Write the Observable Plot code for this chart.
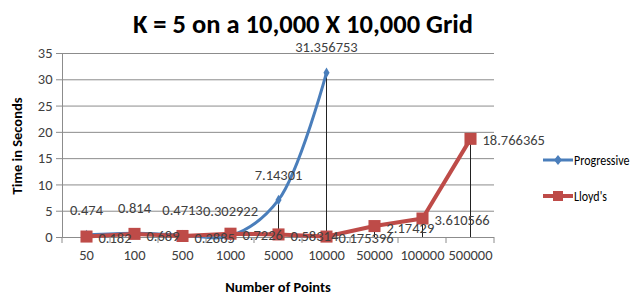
<!DOCTYPE html>
<html><head><meta charset="utf-8">
<script src="https://cdn.jsdelivr.net/npm/d3@7"></script>
<script src="https://cdn.jsdelivr.net/npm/@observablehq/plot@0.6"></script>
<style>
body{margin:0;background:#fff;}
#wrap{position:relative;width:639px;height:296px;font-family:Carlito,Lato,sans-serif;overflow:hidden;}
#wrap > svg{position:absolute;left:0;top:0;}
.abs{position:absolute;white-space:nowrap;}
#title{left:0;width:606px;top:7px;text-align:center;font-weight:bold;font-size:26.5px;color:#000;line-height:34px;}
#ylab{left:17px;top:146px;transform:translate(-50%,-50%) rotate(-90deg);font-weight:bold;font-size:14.5px;color:#000;}
#xlab{left:278px;top:287px;transform:translate(-50%,-50%);font-weight:bold;font-size:14.5px;color:#000;}
.leg{left:543px;display:flex;align-items:center;font-size:15px;color:#000;transform:translateY(-50%);}
.leg svg{display:block;margin-right:1px;}
.leg span{display:inline-block;transform:scaleX(0.8);transform-origin:left center;}
</style></head><body>
<div id="wrap">
<div id="title" class="abs">K = 5 on a 10,000 X 10,000 Grid</div>
<div id="ylab" class="abs">Time in Seconds</div>
<div id="xlab" class="abs">Number of Points</div>
</div>
<script>
const categories = ["50","100","500","1000","5000","10000","50000","100000","500000"];
const progressive = [0.474,0.814,0.4713,0.302922,7.14301,31.356753];
const progressiveLabels = ["0.474","0.814","0.4713","0.302922","7.14301","31.356753"];
const lloyds = [0.182,0.689,0.2885,0.7226,0.58314,0.175396,2.17429,3.610566,18.766365];
const lloydsLabels = ["0.182","0.689","0.2885","0.7226","0.58314","0.175396","2.17429","3.610566","18.766365"];
const yTicks = [0,5,10,15,20,25,30,35];
const seriesNames = ["Progressive","Lloyd's"];
const seriesColors = ["#4a7ebb","#be4b48"];

const prog = progressive.map((v,i)=>({cat:categories[i], v, label:progressiveLabels[i]}));
const lloyd = lloyds.map((v,i)=>({cat:categories[i], v, label:lloydsLabels[i]}));
const drops = categories.map((c,i)=>({cat:c, v: Math.max(lloyds[i] ?? 0, progressive[i] ?? 0)}));

const gray = "#8c8c8c";
const txt = "#404040";
const fs = 14.5;
const chart = Plot.plot({
  width: 639, height: 296,
  marginLeft: 62, marginRight: 145, marginTop: 53, marginBottom: 59,
  style: {fontFamily: "Carlito, Lato, sans-serif", background: "transparent"},
  x: {type: "point", domain: categories, padding: 0.5},
  y: {domain: [0,35]},
  marks: [
    Plot.gridY(yTicks, {stroke: gray, strokeOpacity: 1}),
    Plot.frame({anchor: "left", stroke: gray}),
    Plot.ruleY([0], {stroke: gray}),
    Plot.axisY(yTicks, {tickSize: 6, tickPadding: 4, fontSize: fs, stroke: gray, fill: txt, label: null}),
    Plot.axisX({tickSize: 0, tickPadding: 12, fontSize: fs, fill: txt, label: null}),
    Plot.ruleX(drops, {x: "cat", y1: 0, y2: "v", stroke: "#222", strokeWidth: 1}),
    Plot.line(prog, {x: "cat", y: "v", stroke: seriesColors[0], strokeWidth: 3, curve: "catmull-rom"}),
    Plot.dot(prog, {x: "cat", y: "v", symbol: "diamond", r: 3.2, fill: seriesColors[0], stroke: "none"}),
    Plot.line(lloyd, {x: "cat", y: "v", stroke: seriesColors[1], strokeWidth: 4}),
    Plot.dot(lloyd, {x: "cat", y: "v", symbol: "square", r: 6.8, fill: seriesColors[1], stroke: "none"}),
    Plot.text(prog, {x: "cat", y: "v", text: "label", dy: -25, fill: txt, fontSize: fs}),
    Plot.text(lloyd, {x: "cat", y: "v", text: "label", dx: 12, dy: 2, textAnchor: "start", fill: txt, fontSize: fs})
  ]
});
const wrap = document.getElementById("wrap");
wrap.insertBefore(chart, wrap.firstChild);

// category-boundary tick marks under the x axis (Excel style)
const xs = chart.scale("x");
const cx = categories.map(c => xs.apply(c));
const step = cx[1] - cx[0];
const ys = chart.scale("y");
const y0 = ys.apply(0);
const bounds = cx.map(v => v - step/2).concat([cx[cx.length-1] + step/2]);
d3.select(chart).append("g").selectAll("line").data(bounds).join("line")
  .attr("x1", d => d).attr("x2", d => d).attr("y1", y0).attr("y2", y0 + 6)
  .attr("stroke", gray);

// legend
const legTops = [160, 196];
seriesNames.forEach((name, i) => {
  const d = document.createElement("div");
  d.className = "abs leg";
  d.style.top = legTops[i] + "px";
  const sym = i === 0
    ? `<path d="M15,2 L19,7 L15,12 L11,7 Z" fill="${seriesColors[0]}"/>`
    : `<rect x="10" y="2" width="10" height="10" fill="${seriesColors[1]}"/>`;
  d.innerHTML = `<svg width="30" height="14"><line x1="0" x2="30" y1="7" y2="7" stroke="${seriesColors[i]}" stroke-width="${i===0?3:4}"/>${sym}</svg><span>${name}</span>`;
  wrap.appendChild(d);
});
</script>
</body></html>
